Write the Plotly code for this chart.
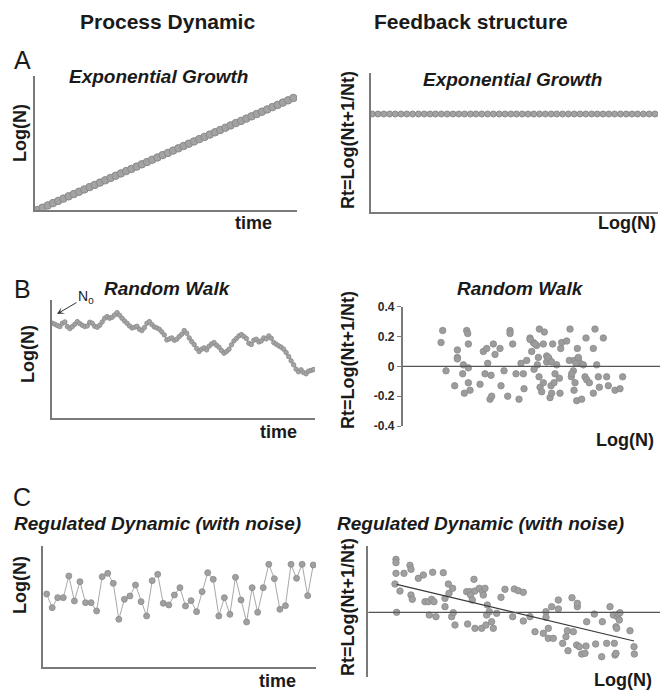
import plotly.graph_objects as go

# ---------------- data ----------------
# A: exponential growth (Log(N) over time) and constant Rt
exp_time = list(range(50))
exp_logn = [0, 2.3, 4.6, 6.9, 9.1, 11.4, 13.7, 16, 18.3, 20.6, 22.9, 25.1, 27.4, 29.7, 32,
            34.3, 36.6, 38.9, 41.1, 43.4, 45.7, 48, 50.3, 52.6, 54.9, 57.1, 59.4, 61.7, 64,
            66.3, 68.6, 70.9, 73.1, 75.4, 77.7, 80, 82.3, 84.6, 86.9, 89.1, 91.4, 93.7, 96,
            98.3, 100.6, 102.9, 105.1, 107.4, 109.7, 112]
exp_rt = [97.5] * 50

# B: random walk
rw_logn = [285, 282, 278, 275, 285, 289, 275, 269, 275, 282, 290, 284, 279, 275, 277, 288,
           285, 276, 273, 279, 289, 300, 305, 300, 303, 310, 317, 309, 300, 292, 285, 277,
           271, 273, 276, 267, 263, 272, 285, 290, 281, 274, 271, 267, 259, 250, 235, 238,
           241, 234, 237, 245, 252, 263, 255, 241, 230, 221, 209, 200, 207, 211, 205, 216,
           223, 227, 219, 213, 203, 195, 200, 207, 220, 232, 239, 247, 251, 245, 239, 225,
           221, 234, 237, 229, 232, 241, 238, 247, 240, 227, 222, 217, 213, 207, 197, 185,
           172, 160, 147, 139, 145, 137, 133, 141, 143, 146]
rw_time = list(range(len(rw_logn)))

rw_fb_logn = [3.38, 3.33, 3.48, 3.74, 3.82, 3.82, 3.82, 3.98, 4.00, 4.03, 4.10, 4.13, 4.15,
              4.15, 4.15, 4.20, 4.50, 4.60, 4.70, 4.65, 4.73, 4.80, 4.85, 4.83, 4.90, 4.95,
              5.10, 5.13, 5.22, 5.33, 5.40, 5.40, 5.48, 5.58, 5.67, 5.73, 5.80, 5.82, 6.00,
              6.05, 6.10, 6.12, 6.20, 6.22, 6.27, 6.28, 6.30, 6.35, 6.40, 6.40, 6.25, 6.43,
              6.50, 6.50, 6.57, 6.60, 6.63, 6.65, 6.68, 6.72, 6.75, 6.80, 6.88, 6.90, 6.92,
              6.95, 7.10, 7.18, 7.20, 7.24, 7.30, 7.32, 7.35, 7.40, 7.42, 7.45, 7.50, 7.55,
              7.60, 7.65, 7.68, 7.70, 7.78, 7.90, 7.95, 8.00, 8.05, 8.08, 8.20, 8.30, 8.35,
              8.55, 8.70, 8.78, 7.90, 6.00, 6.15, 7.33, 7.45, 6.55, 5.90, 7.38, 6.65, 7.25]
rw_fb_rt = [0.24, 0.16, -0.03, -0.13, 0.11, 0.06, 0.05, -0.05, 0.01, -0.18, 0.24, 0.22, 0.15,
            -0.01, -0.11, -0.16, -0.12, 0.10, 0.12, -0.05, 0.02, -0.22, -0.20, -0.06, 0.15,
            0.08, 0.12, -0.13, -0.03, -0.20, 0.24, 0.22, 0.15, -0.05, -0.22, 0.02, -0.05,
            -0.15, 0.19, 0.10, 0.16, -0.02, 0.14, 0.01, -0.07, 0.25, -0.14, -0.17, 0.15,
            -0.11, 0.06, 0.23, 0.03, 0.07, 0.05, -0.21, -0.13, -0.18, 0.15, -0.11, -0.05,
            0.01, -0.08, -0.18, 0.12, 0.16, 0.17, 0.04, 0.25, -0.07, -0.03, -0.16, -0.11,
            -0.23, 0.12, 0.05, 0.02, -0.22, 0.01, -0.07, 0.19, -0.09, -0.11, -0.18, 0.25,
            0.01, -0.07, -0.14, 0.19, -0.07, -0.13, -0.16, -0.15, -0.07, 0.12, 0.18, 0.15,
            0.04, 0.06, 0.06, 0.04, 0.02, 0.03, -0.05]
rw_ticks = [0.4, 0.2, 0, -0.2, -0.4]
rw_ticklabels = ["0.4", "0.2", "0", "-0.2", "-0.4"]

# C: regulated dynamic (with noise)
reg_logn = [220, 179, 209, 209, 274, 199, 257, 194, 194, 169, 272, 282, 252, 144, 204, 214,
            247, 197, 154, 260, 279, 192, 187, 217, 239, 184, 200, 167, 227, 284, 264, 154,
            209, 159, 270, 202, 136, 239, 165, 239, 309, 266, 174, 185, 309, 267, 309, 215, 307]
reg_time = list(range(len(reg_logn)))

reg_fb_logn = [198, 198, 198, 195, 210, 200, 222, 240, 243, 243, 247, 265, 280, 285, 295, 298,
               305, 308, 312, 318, 340, 345, 345, 355, 357, 365, 368, 370, 375, 410, 413, 420,
               422, 427, 432, 435, 435, 448, 455, 458, 460, 465, 468, 470, 472, 478, 485, 490,
               500, 513, 525, 548, 553, 565, 580, 580, 600, 615, 640, 648, 648, 655, 655, 665,
               670, 685, 685, 698, 708, 712, 714, 726, 730, 740, 742, 742, 748, 755, 765, 768,
               770, 793, 797, 815, 817, 830, 840, 850, 853, 855, 858, 860, 862, 865, 868, 870,
               900, 912, 913, 858]
reg_fb_rt = [159, 149, 117, 85, 64, 0, 117, 141, 129, 52, 39, 102, 112, 32, 32, -8,
             39, 120, 32, -13, 119, 17, 42, 85, 57, -13, 72, -1, -38, 62, -35, 62,
             52, 37, 99, -48, 64, 72, -48, 62, 52, 72, -38, -8, 22, 2, -28, -48,
             -3, 45, 69, -13, 70, 65, 60, -26, -13, -58, -63, 2, -15, -78, -48, 17,
             -78, 37, 10, -93, -73, -55, -115, 44, -58, -98, 17, 27, -103, -125, -123, -101,
             -28, -5, -95, -133, -28, -93, 17, -8, -93, -128, -43, -48, -13, -5, -23, -1,
             -55, -103, -125, -123]
reg_fit_logn = [200, 912]
reg_fit_rt = [84, -86]

# ---------------- styling ----------------
FONT = "Liberation Sans, Arial, sans-serif"
TXT = "#1a1a1a"
AX = "#7a7a7a"
FILL = "#a3a3a3"
EDGE = "#8a8a8a"

W, H = 660, 692


def px(x):
    return x / W


def py(y):
    return 1 - y / H


fig = go.Figure()

# A-left
fig.add_trace(go.Scatter(x=exp_time, y=exp_logn, mode="markers", xaxis="x", yaxis="y",
                         marker=dict(size=7.5, color=FILL, line=dict(color=EDGE, width=1))))
# A-right
fig.add_trace(go.Scatter(x=exp_logn, y=exp_rt, mode="markers", xaxis="x2", yaxis="y2",
                         marker=dict(size=6, color=FILL, line=dict(color=EDGE, width=1))))
# B-left
fig.add_trace(go.Scatter(x=rw_time, y=rw_logn, mode="lines+markers", xaxis="x3", yaxis="y3",
                         line=dict(color="#9a9a9a", width=1.2),
                         marker=dict(size=4.5, color=FILL, line=dict(color=EDGE, width=0.8))))
# B-right
fig.add_trace(go.Scatter(x=rw_fb_logn, y=rw_fb_rt, mode="markers", xaxis="x4", yaxis="y4",
                         marker=dict(size=6.5, color="#9c9c9c", line=dict(color="#8c8c8c", width=0.8))))
# C-left
fig.add_trace(go.Scatter(x=reg_time, y=reg_logn, mode="lines+markers", xaxis="x5", yaxis="y5",
                         line=dict(color="#a8a8a8", width=1),
                         marker=dict(size=6, color="#a0a0a0", line=dict(color=EDGE, width=0.8))))
# C-right
fig.add_trace(go.Scatter(x=reg_fb_logn, y=reg_fb_rt, mode="markers", xaxis="x6", yaxis="y6",
                         marker=dict(size=6.5, color="#a0a0a0", line=dict(color=EDGE, width=0.8))))
fig.add_trace(go.Scatter(x=reg_fit_logn, y=reg_fit_rt, mode="lines", xaxis="x6", yaxis="y6",
                         line=dict(color="#3a3a3a", width=1.2)))

ax_common = dict(showgrid=False, zeroline=False, showticklabels=False, ticks="",
                 showline=True, linecolor=AX, linewidth=1.5, fixedrange=True, automargin=False)

fig.update_layout(
    width=W, height=H, margin=dict(l=0, r=0, t=0, b=0, pad=0, autoexpand=False),
    paper_bgcolor="white", plot_bgcolor="white", showlegend=False,
    font=dict(family=FONT, color=TXT),
    # A-left
    xaxis=dict(domain=[px(34.7), px(297)], range=[-0.5, 49.7], anchor="y", **ax_common),
    yaxis=dict(domain=[py(210), py(76)], range=[0, 134], anchor="x", **ax_common),
    # A-right
    xaxis2=dict(domain=[px(370.7), px(658)], range=[-0.6, 113.2], anchor="y2", **ax_common),
    yaxis2=dict(domain=[py(211.5), py(73)], range=[0, 138.5], anchor="x2", **ax_common),
    # B-left
    xaxis3=dict(domain=[px(51.7), px(315)], range=[-0.3, 105.6], anchor="y3", **ax_common),
    yaxis3=dict(domain=[py(418), py(300)], range=[0, 355], anchor="x3", **ax_common),
    # B-right
    xaxis4=dict(domain=[px(402.7), 1.0], range=[2.18, 9.9], anchor="y4", visible=False, fixedrange=True),
    yaxis4=dict(domain=[py(426), py(306.7)], range=[-0.4, 0.4], anchor="x4", automargin=False,
                showgrid=False, zeroline=False, showline=True, linecolor=AX, linewidth=1.5,
                ticks="outside", ticklen=4, tickwidth=1.2, tickcolor=AX,
                tickvals=rw_ticks, ticktext=rw_ticklabels,
                tickfont=dict(family=FONT, size=12, color="#2a2a2a", weight="bold"), fixedrange=True),
    # C-left
    xaxis5=dict(domain=[px(43.3), px(316)], range=[-0.6, 48.5], anchor="y5", **ax_common),
    yaxis5=dict(domain=[py(667.3), py(546)], range=[0, 364], anchor="x5", **ax_common),
    # C-right
    xaxis6=dict(domain=[px(368.3), 1.0], range=[115, 990], anchor="y6", visible=False, fixedrange=True),
    yaxis6=dict(domain=[py(676.7), py(546)], range=[-193, 199], anchor="x6", **ax_common),
)

# zero lines for the feedback panels
fig.add_shape(type="line", xref="x4 domain", yref="y4", x0=0, x1=1, y0=0, y1=0,
              line=dict(color="#555555", width=1.2))
fig.add_shape(type="line", xref="x6 domain", yref="y6", x0=0, x1=1, y0=0, y1=0,
              line=dict(color="#555555", width=1.2))


def txt(x, y, s, size, bold=True, italic=False, angle=0, xanchor="center"):
    fig.add_annotation(x=px(x), y=py(y), xref="paper", yref="paper", text=s, showarrow=False,
                       xanchor=xanchor, yanchor="middle", textangle=angle,
                       font=dict(family=FONT, size=size, color=TXT,
                                 weight="bold" if bold else "normal",
                                 style="italic" if italic else "normal"))


# column titles
txt(167, 22, "Process Dynamic", 21)
txt(471, 22, "Feedback structure", 21)
# panel letters
txt(22, 60, "A", 25, bold=False)
txt(22, 289, "B", 25, bold=False)
txt(22, 497, "C", 25, bold=False)
# subtitles
txt(158, 77, "Exponential Growth", 19, italic=True)
txt(512, 80, "Exponential Growth", 19, italic=True)
txt(167, 288, "Random Walk", 19, italic=True)
txt(520, 288, "Random Walk", 19, italic=True)
txt(157, 523, "Regulated Dynamic (with noise)", 19, italic=True)
txt(480, 523, "Regulated Dynamic (with noise)", 19, italic=True)
# y-axis titles
txt(20, 133, "Log(N)", 18, angle=-90)
txt(348, 140, "Rt=Log(Nt+1/Nt)", 18, angle=-90)
txt(28, 354, "Log(N)", 18, angle=-90)
txt(348, 360, "Rt=Log(Nt+1/Nt)", 18, angle=-90)
txt(20, 585, "Log(N)", 18, angle=-90)
txt(348, 607, "Rt=Log(Nt+1/Nt)", 18, angle=-90)
# x-axis titles
txt(253, 223, "time", 18)
txt(658, 223, "Log(N)", 18, xanchor="right")
txt(278, 432, "time", 18)
txt(656, 440, "Log(N)", 18, xanchor="right")
txt(277, 681, "time", 18)
txt(654, 680, "Log(N)", 18, xanchor="right")

# N0 label with arrow pointing at the starting point of the random walk
fig.add_annotation(x=px(57), y=py(314), xref="paper", yref="paper", text="N<sub>0</sub>",
                   showarrow=True, ax=29, ay=-17, standoff=0,
                   arrowhead=3, arrowsize=1.2, arrowwidth=1, arrowcolor="#333333",
                   font=dict(family=FONT, size=14, color=TXT))

fig.write_html("out.html", config={"displayModeBar": False},
               post_script="document.body.style.margin='0';document.body.style.overflow='hidden';")
